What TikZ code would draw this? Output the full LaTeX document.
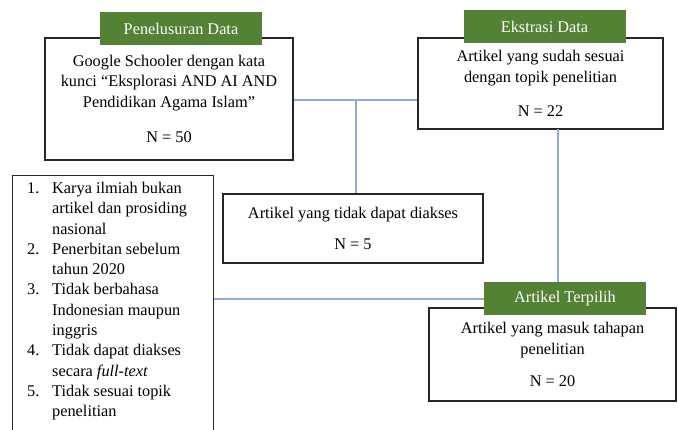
\documentclass[tikz,border=0pt]{standalone}
\usepackage{fontspec}
\setmainfont{Liberation Serif}
\usetikzlibrary{positioning, calc}
\definecolor{tabgreen}{HTML}{548235}
\definecolor{linkblue}{HTML}{8FAADC}
\definecolor{boxline}{HTML}{262626}

\begin{document}
\begin{tikzpicture}[
    x=1pt, y=-1pt,
    box/.style={draw=boxline, line width=1.2pt, align=center, inner sep=0pt, font=\fontsize{16.3}{20.5}\selectfont},
    tab/.style={fill=tabgreen, text=white, minimum width=162pt, minimum height=33pt, inner sep=0pt, font=\fontsize{16.3}{20.5}\selectfont},
    link/.style={draw=linkblue, line width=1.5pt},
]
\clip (0,0) rectangle (678,430);

% Stage boxes
\node[box, minimum width=248pt, minimum height=122pt] (cari) at (169, 99)
  {Google Schooler dengan kata\\ kunci ``Eksplorasi AND AI AND\\ Pendidikan Agama Islam''\\[15pt] N = 50};
\node[box, minimum width=245pt, minimum height=91pt] (ekstrasi) at (540.5, 83.5)
  {Artikel yang sudah sesuai\\ dengan topik penelitian\\[14pt] N = 22};
\node[box, minimum width=260pt, minimum height=69pt] (diakses) at (353, 228.5)
  {Artikel yang tidak dapat diakses\\[11pt] N = 5};
\node[box, minimum width=247pt, minimum height=93pt] (terpilih) at (552.5, 354.5)
  {Artikel yang masuk tahapan\\ penelitian\\[12pt] N = 20};

% Exclusion list
\node[box, minimum width=201pt, minimum height=280pt, anchor=north west] (kriteria) at (12, 175) {};
\node[anchor=north west, inner sep=0pt, font=\fontsize{16.3}{20.3}\selectfont] (daftar) at (27, 179) {%
  \begin{tabular}{@{}p{25pt}@{}l@{}}
  1. & Karya ilmiah bukan\\
     & artikel dan prosiding\\
     & nasional\\
  2. & Penerbitan sebelum\\
     & tahun 2020\\
  3. & Tidak berbahasa\\
     & Indonesian maupun\\
     & inggris\\
  4. & Tidak dapat diakses\\
     & secara \textit{full-text}\\
  5. & Tidak sesuai topik\\
     & penelitian
  \end{tabular}};

% Green headers
\node[tab] (tabcari) at (181, 28.5) {Penelusuran Data};
\node[tab] (tabekstrasi) at (544.5, 27) {Ekstrasi Data};
\node[tab] (tabterpilih) at (565, 299) {Artikel Terpilih};

% Connectors
\coordinate (cabang) at (356, 100);
\coordinate (turun) at (558, 129);
\draw[link] (cari.east |- cabang) -- (ekstrasi.west |- cabang);
\draw[link] (cabang) -- (cabang |- diakses.north);
\draw[link] (turun) -- (turun |- tabterpilih.north);
\draw[link] (kriteria.east |- tabterpilih.west) -- (tabterpilih.west);

\end{tikzpicture}
\end{document}
